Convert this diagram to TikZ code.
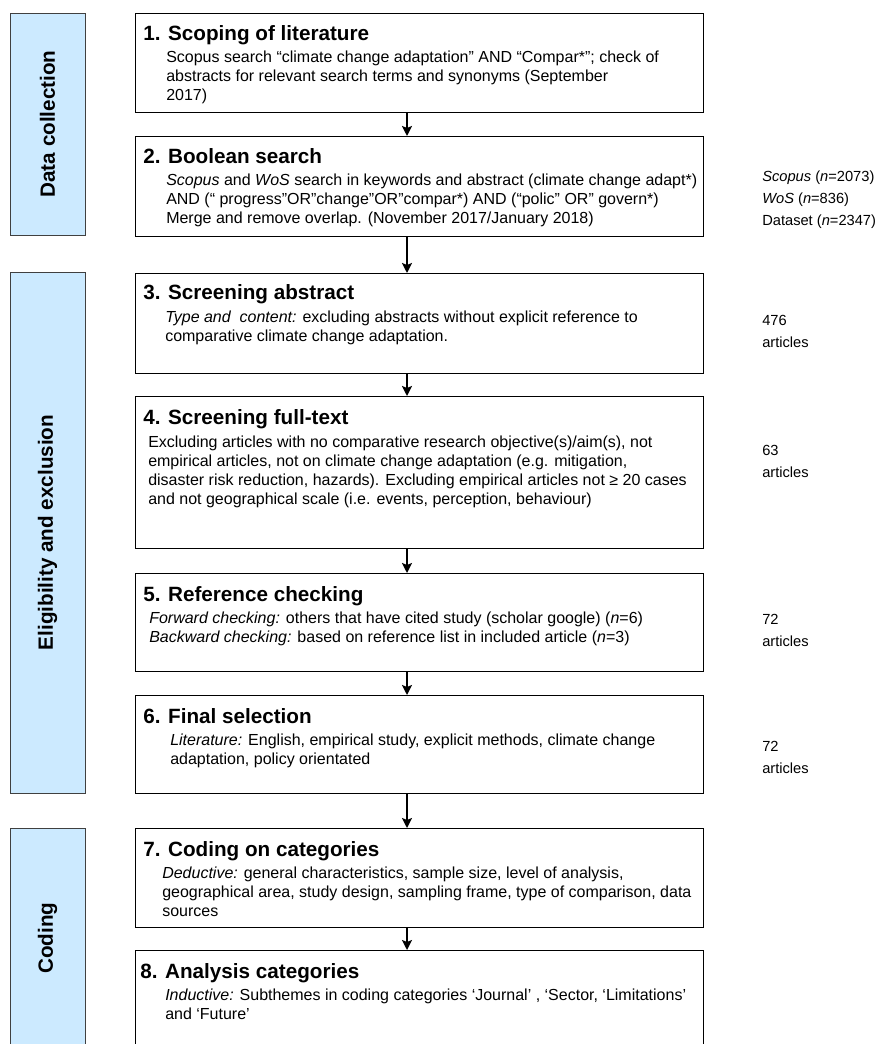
\documentclass[tikz,border=0pt]{standalone}
\usepackage{fontspec}
\setmainfont{Liberation Sans}
\usetikzlibrary{arrows.meta}
\definecolor{bandblue}{RGB}{204,234,255}
\tikzset{
  band/.style={draw=black!75, fill=bandblue, rotate=90, minimum height=75*0.75pt,
    inner sep=0pt, font=\fontsize{15.5}{18}\selectfont\bfseries},
  stepbox/.style={draw, line width=1pt, anchor=north west, minimum width=568*0.75pt, inner sep=0pt},
  steptitle/.style={anchor=base west, inner sep=0pt, font=\fontsize{15.5}{18}\selectfont\bfseries},
  stepbody/.style={anchor=base west, inner sep=0pt, align=left, font=\fontsize{12}{14.25}\selectfont},
  tally/.style={anchor=base west, inner sep=0pt, align=left, font=\fontsize{11}{16.5}\selectfont},
  flow/.style={line width=1.4pt, -{Stealth[length=7.5pt,width=7.5pt,inset=1.5pt]}},
}

\begin{document}
\begin{tikzpicture}[x=0.75pt, y=-0.75pt]
  \useasboundingbox (0,0) rectangle (875,1044);
  \clip (0,0) rectangle (875,1044);

  % phases
  \node[band, minimum width=222*0.75pt] (b1) at (47.5,124) {Data collection};
  \node[band, minimum width=521*0.75pt] (b2) at (47.5,532.5) {Eligibility and exclusion};
  \node[band, minimum width=220*0.75pt] (b3) at (47.5,938) {Coding};

  % steps
  \node[stepbox, minimum height=99*0.75pt] (s1) at (135,13) {};
  \node[stepbox, minimum height=100*0.75pt] (s2) at (135,136) {};
  \node[stepbox, minimum height=100*0.75pt] (s3) at (135,273) {};
  \node[stepbox, minimum height=152*0.75pt] (s4) at (135,396) {};
  \node[stepbox, minimum height=98*0.75pt] (s5) at (135,573) {};
  \node[stepbox, minimum height=98*0.75pt] (s6) at (135,695) {};
  \node[stepbox, minimum height=99*0.75pt] (s7) at (135,828) {};
  \node[stepbox, minimum height=100*0.75pt] (s8) at (135,950) {};

  % texts (body nodes sit on the baseline of their last line)
  \node[steptitle] (t1) at ([shift={(8,28)}]s1.north west) {1. Scoping of literature};
  \node[stepbody] (d1) at ([shift={(31,88)}]s1.north west)
    {Scopus search “climate change adaptation” AND “Compar*”; check of\\abstracts for relevant search terms and synonyms (September\\2017)};

  \node[steptitle] (t2) at ([shift={(8,28)}]s2.north west) {2. Boolean search};
  \node[stepbody] (d2) at ([shift={(31,88)}]s2.north west)
    {\textit{Scopus} and \textit{WoS} search in keywords and abstract (climate change adapt*)\\AND (“ progress”OR”change”OR”compar*) AND (“polic” OR” govern*)\\Merge and remove overlap. (November 2017/January 2018)};

  \node[steptitle] (t3) at ([shift={(8,27)}]s3.north west) {3. Screening abstract};
  \node[stepbody] (d3) at ([shift={(30,69)}]s3.north west)
    {\textit{Type and~ content:} excluding abstracts without explicit reference to\\comparative climate change adaptation.};

  \node[steptitle] (t4) at ([shift={(8,28)}]s4.north west) {4. Screening full-text};
  \node[stepbody] (d4) at ([shift={(13,108)}]s4.north west)
    {Excluding articles with no comparative research objective(s)/aim(s), not\\empirical articles, not on climate change adaptation (e.g. mitigation,\\disaster risk reduction, hazards). Excluding empirical articles not ≥ 20 cases\\and not geographical scale (i.e. events, perception, behaviour)};

  \node[steptitle] (t5) at ([shift={(8,28)}]s5.north west) {5. Reference checking};
  \node[stepbody] (d5) at ([shift={(14,69)}]s5.north west)
    {\textit{Forward checking:} others that have cited study (scholar google) (\textit{n}=6)\\\textit{Backward checking:} based on reference list in included article (\textit{n}=3)};

  \node[steptitle] (t6) at ([shift={(8,28)}]s6.north west) {6. Final selection};
  \node[stepbody] (d6) at ([shift={(35,69)}]s6.north west)
    {\textit{Literature:} English, empirical study, explicit methods, climate change\\adaptation, policy orientated};

  \node[steptitle] (t7) at ([shift={(8,28)}]s7.north west) {7. Coding on categories};
  \node[stepbody] (d7) at ([shift={(27,88)}]s7.north west)
    {\textit{Deductive:} general characteristics, sample size, level of analysis,\\geographical area, study design, sampling frame, type of comparison, data\\sources};

  \node[steptitle] (t8) at ([shift={(5,28)}]s8.north west) {8. Analysis categories};
  \node[stepbody] (d8) at ([shift={(30,69)}]s8.north west)
    {\textit{Inductive:} Subthemes in coding categories ‘Journal’ , ‘Sector, ‘Limitations’\\and ‘Future’};

  % counts
  \node[tally] (c2) at (762,226) {\textit{Scopus} (\textit{n}=2073)\\\textit{WoS} (\textit{n}=836)\\Dataset (\textit{n}=2347)};
  \node[tally] (c3) at (762,348) {476\\articles};
  \node[tally] (c4) at (762,477) {63\\articles};
  \node[tally] (c5) at (762,646) {72\\articles};
  \node[tally] (c6) at (762,773) {72\\articles};

  % flow
  \coordinate (ax) at (407,0);
  \path[flow] (s1.south -| ax) edge (s2.north -| ax);
  \path[flow] (s2.south -| ax) edge (s3.north -| ax);
  \path[flow] (s3.south -| ax) edge (s4.north -| ax);
  \path[flow] (s4.south -| ax) edge (s5.north -| ax);
  \path[flow] (s5.south -| ax) edge (s6.north -| ax);
  \path[flow] (s6.south -| ax) edge (s7.north -| ax);
  \path[flow] (s7.south -| ax) edge (s8.north -| ax);
\end{tikzpicture}
\end{document}
